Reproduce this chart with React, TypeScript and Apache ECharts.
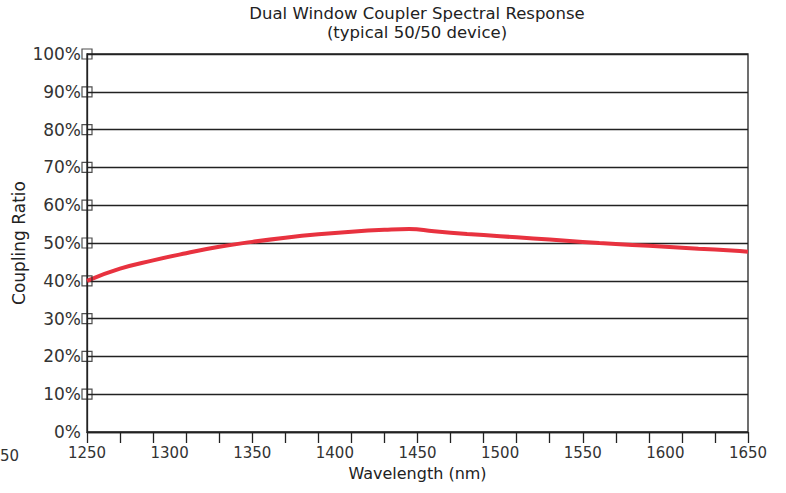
import React, { useEffect, useRef } from "react";
import * as echarts from "echarts";

const wavelengths = [1250, 1270, 1290, 1310, 1330, 1350, 1370, 1390, 1410, 1430, 1445, 1460, 1480, 1500, 1520, 1540, 1560, 1580, 1600, 1620, 1640, 1650];
const couplingRatio = [40.0, 43.2, 45.4, 47.3, 49.0, 50.3, 51.4, 52.3, 53.0, 53.5, 53.7, 53.1, 52.4, 51.8, 51.2, 50.6, 50.0, 49.5, 49.0, 48.5, 48.0, 47.7];
const markerLevels = [10, 20, 30, 40, 50, 60, 70, 80, 90, 100];
const titleLines = ["Dual Window Coupler Spectral Response", "(typical 50/50 device)"];

const FONT = "'DejaVu Sans', 'Liberation Sans', Arial, sans-serif";

export default function App() {
  const ref = useRef<HTMLDivElement>(null);
  useEffect(() => {
    if (!ref.current) return;
    const chart = echarts.init(ref.current, undefined, { renderer: "svg" });
    chart.setOption({
      animation: false,
      backgroundColor: "#ffffff",
      textStyle: { fontFamily: FONT },
      title: titleLines.map((t, i) => ({
        text: t,
        left: 417,
        top: 4 + i * 19,
        padding: 0,
        textAlign: "center",
        textStyle: { fontFamily: FONT, fontSize: 16.5, fontWeight: "normal", color: "#222", lineHeight: 18 },
      })),
      graphic: [
        { type: "text", left: 0, top: 448, style: { text: "50", font: "15px " + FONT, fill: "#333" } },
      ],
      grid: { left: 87, right: 38, top: 54, bottom: 61, show: true, borderColor: "#222", borderWidth: 1.3, containLabel: false, outerBoundsMode: "none" },
      xAxis: [
        {
          type: "value",
          min: 1250,
          max: 1650,
          interval: 50,
          position: "bottom",
          name: "Wavelength (nm)",
          nameLocation: "middle",
          nameGap: 33,
          nameMoveOverlap: false,
          nameTextStyle: { fontFamily: FONT, fontSize: 16, color: "#222" },
          axisLine: { show: true, lineStyle: { color: "#222", width: 1.3 } },
          axisTick: { show: false },
          axisLabel: { fontFamily: FONT, fontSize: 15, color: "#333", margin: 13, formatter: (v: number) => String(v) },
          splitLine: { show: false },
        },
        {
          type: "value",
          min: 0,
          max: 400,
          interval: 20,
          position: "bottom",
          axisLine: { show: false },
          axisTick: { show: true, length: 11, lineStyle: { color: "#222", width: 1.3 } },
          axisLabel: { show: false },
          splitLine: { show: false },
        },
      ],
      yAxis: {
        type: "value",
        min: 0,
        max: 100,
        interval: 10,
        name: "Coupling Ratio",
        nameLocation: "middle",
        nameGap: 60,
        nameMoveOverlap: false,
        nameTextStyle: { fontFamily: FONT, fontSize: 17, color: "#222" },
        axisLine: { show: true, lineStyle: { color: "#222", width: 1.3 } },
        axisTick: { show: false },
        axisLabel: { formatter: "{value}%", fontFamily: FONT, fontSize: 17, color: "#333", margin: 6 },
        splitLine: { show: true, lineStyle: { color: "#222", width: 1.3 } },
      },
      series: [
        {
          type: "line",
          xAxisIndex: 0,
          data: wavelengths.map((w, i) => [w, couplingRatio[i]]),
          smooth: true,
          showSymbol: false,
          lineStyle: { color: "#e8323f", width: 4 },
          z: 5,
        },
        {
          type: "scatter",
          xAxisIndex: 0,
          data: markerLevels.map((v) => [1250, v]),
          symbol: "rect",
          symbolSize: 10,
          itemStyle: { color: "rgba(0,0,0,0)", borderColor: "#222", borderWidth: 1.2 },
          z: 6,
        },
      ],
    });
    return () => chart.dispose();
  }, []);
  return <div ref={ref} style={{ position: "fixed", left: 0, top: 0, width: 786, height: 493 }} />;
}
